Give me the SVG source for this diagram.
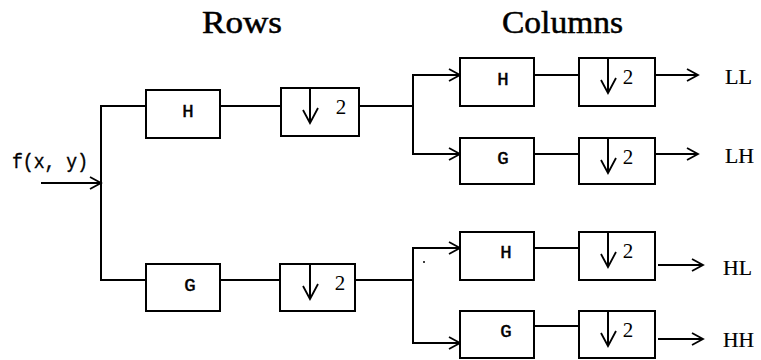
<svg xmlns="http://www.w3.org/2000/svg" width="761" height="360" viewBox="0 0 761 360">
  <style>
    .box { fill: #fff; stroke: #000; stroke-width: 2; }
    .wire { fill: none; stroke: #000; stroke-width: 2; }
    .head { fill: none; stroke: #000; stroke-width: 1.8; }
    .title { font-family: "Liberation Serif", "Times New Roman", serif; font-size: 31px; fill: #000; stroke: #000; stroke-width: 0.5; }
    .out { font-family: "Liberation Serif", "Times New Roman", serif; font-size: 21px; fill: #000; stroke: #000; stroke-width: 0.2; }
    .lbl { font-family: "Liberation Mono", "Courier New", monospace; font-size: 19px; fill: #000; stroke: #000; stroke-width: 0.5; text-anchor: middle; }
    .num { font-family: "Liberation Serif", "Times New Roman", serif; font-size: 21px; fill: #000; text-anchor: middle; }
    .in { font-family: "Liberation Mono", "Courier New", monospace; font-size: 21px; fill: #000; stroke: #000; stroke-width: 0.4; }
  </style>
  <defs>
    <!-- open chevron arrowhead, tip at origin pointing right -->
    <path id="chev" class="head" d="M-11,-6 L0,0 L-11,6"/>
    <!-- downsample-by-2 symbol: arrow from the box top edge -->
    <g id="down2">
      <path class="wire" d="M0,0 V34"/>
      <path class="head" d="M-7,22 L0,35 L8,20"/>
    </g>
  </defs>

  <rect width="761" height="360" fill="#fff"/>

  <!-- headings -->
  <text class="title" x="202" y="33" textLength="80" lengthAdjust="spacingAndGlyphs">Rows</text>
  <text class="title" x="502" y="33" textLength="121" lengthAdjust="spacingAndGlyphs">Columns</text>
  <text class="in" x="12" y="168" textLength="76" lengthAdjust="spacingAndGlyphs">f(x, y)</text>

  <!-- connectors -->
  <g id="connectors">
    <path class="wire" d="M41,183 H101"/>
    <use href="#chev" x="101" y="183"/>
    <path class="wire" d="M146,106 H101 V280 H146"/>
    <path class="wire" d="M220,106 H281 M359,106 H413"/>
    <path class="wire" d="M220,280 H280 M355,280 H413"/>

    <path class="wire" d="M460,75 H413 V154 H460"/>
    <use href="#chev" x="460" y="75"/>
    <use href="#chev" x="460" y="154"/>
    <path class="wire" d="M534,75 H579 M534,154 H579"/>
    <path class="wire" d="M655,75 H698 M655,154 H698"/>
    <use href="#chev" x="698" y="75"/>
    <use href="#chev" x="698" y="154"/>

    <path class="wire" d="M460,248 H413 V343 H460"/>
    <use href="#chev" x="460" y="248"/>
    <use href="#chev" x="460" y="343"/>
    <path class="wire" d="M534,248 H579 M534,326 H579"/>
    <path class="wire" d="M658,265 H703 M658,339 H703"/>
    <use href="#chev" x="703" y="265"/>
    <use href="#chev" x="703" y="339"/>
    <circle cx="424" cy="262" r="1" fill="#000"/>
  </g>

  <!-- row stage -->
  <g id="row-h">
    <rect class="box" x="146" y="90" width="74" height="48"/>
    <text class="lbl" x="188" y="117">H</text>
  </g>
  <g id="row-h-down">
    <rect class="box" x="281" y="88" width="78" height="48"/>
    <use href="#down2" x="310" y="88"/>
    <text class="num" x="341" y="114">2</text>
  </g>
  <g id="row-g">
    <rect class="box" x="146" y="264" width="74" height="47"/>
    <text class="lbl" x="190" y="291">G</text>
  </g>
  <g id="row-g-down">
    <rect class="box" x="280" y="264" width="75" height="47"/>
    <use href="#down2" x="310" y="264"/>
    <text class="num" x="340" y="290">2</text>
  </g>

  <!-- column stage, low band -->
  <g id="col-ll-h">
    <rect class="box" x="460" y="58" width="74" height="48"/>
    <text class="lbl" x="503" y="85">H</text>
  </g>
  <g id="col-ll-down">
    <rect class="box" x="579" y="58" width="76" height="48"/>
    <use href="#down2" x="608" y="58"/>
    <text class="num" x="628" y="84">2</text>
  </g>
  <g id="col-lh-g">
    <rect class="box" x="460" y="138" width="74" height="46"/>
    <text class="lbl" x="503" y="164">G</text>
  </g>
  <g id="col-lh-down">
    <rect class="box" x="579" y="138" width="76" height="46"/>
    <use href="#down2" x="608" y="138"/>
    <text class="num" x="628" y="164">2</text>
  </g>

  <!-- column stage, high band -->
  <g id="col-hl-h">
    <rect class="box" x="460" y="232" width="74" height="48"/>
    <text class="lbl" x="506" y="258">H</text>
  </g>
  <g id="col-hl-down">
    <rect class="box" x="579" y="232" width="76" height="48"/>
    <use href="#down2" x="608" y="232"/>
    <text class="num" x="628" y="258">2</text>
  </g>
  <g id="col-hh-g">
    <rect class="box" x="460" y="311" width="74" height="47"/>
    <text class="lbl" x="506" y="337">G</text>
  </g>
  <g id="col-hh-down">
    <rect class="box" x="579" y="311" width="76" height="47"/>
    <use href="#down2" x="608" y="311"/>
    <text class="num" x="628" y="337">2</text>
  </g>

  <!-- subband outputs -->
  <text class="out" x="725" y="84" textLength="27" lengthAdjust="spacingAndGlyphs">LL</text>
  <text class="out" x="725" y="163" textLength="29" lengthAdjust="spacingAndGlyphs">LH</text>
  <text class="out" x="723" y="275" textLength="29" lengthAdjust="spacingAndGlyphs">HL</text>
  <text class="out" x="723" y="347" textLength="31" lengthAdjust="spacingAndGlyphs">HH</text>
</svg>
